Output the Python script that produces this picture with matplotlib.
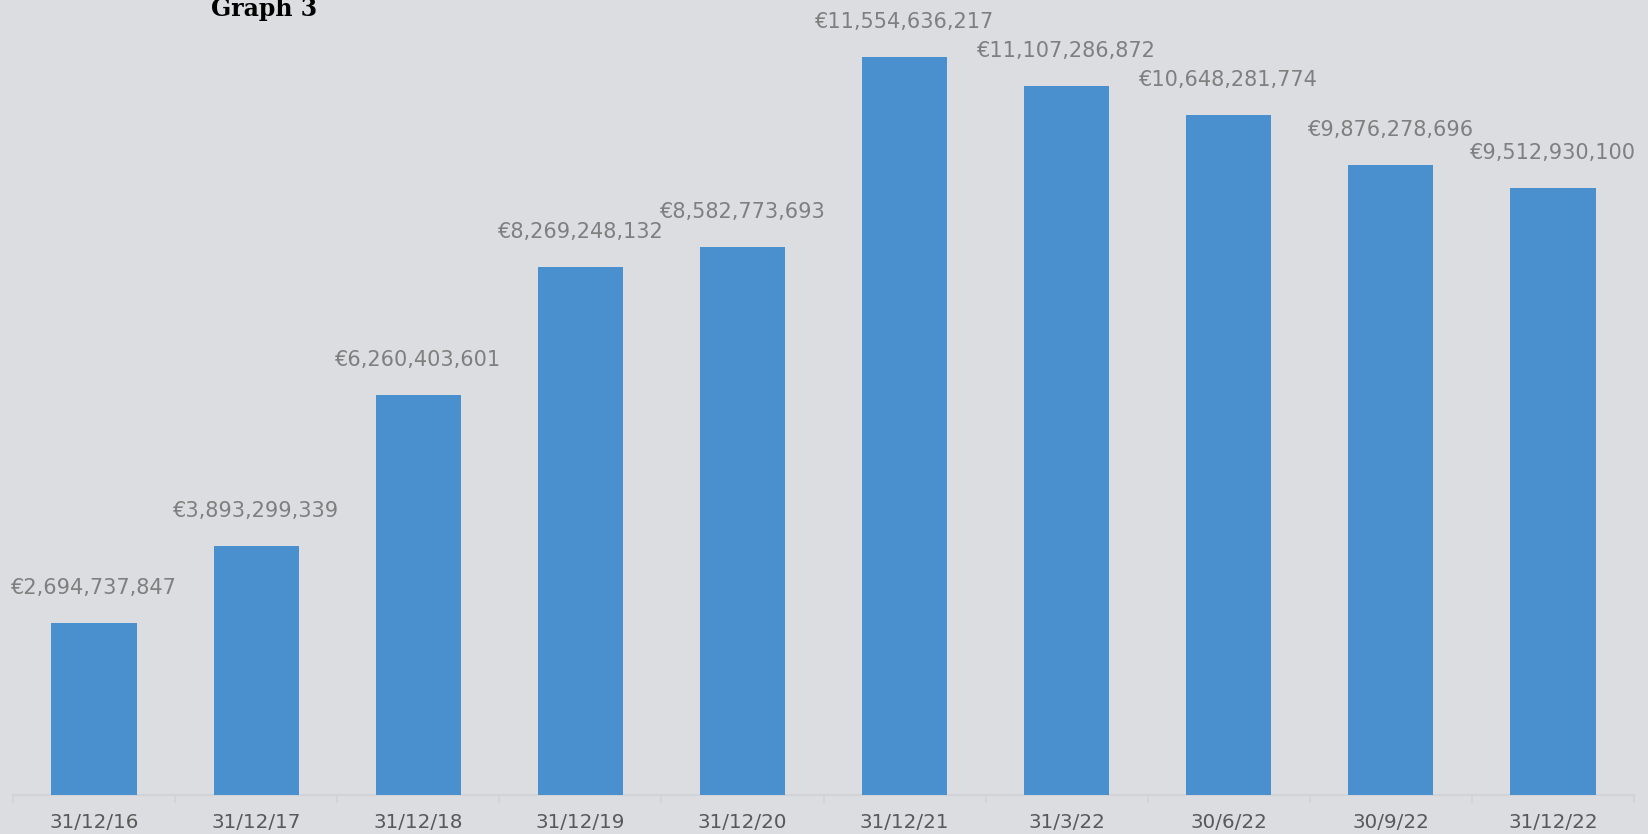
import matplotlib.pyplot as plt
import numpy as np

dates = ['31/12/16', '31/12/17', '31/12/18', '31/12/19', '31/12/20',
         '31/12/21', '31/3/22', '30/6/22', '30/9/22', '31/12/22']
amounts = [2694737847, 3893299339, 6260403601, 8269248132, 8582773693,
           11554636217, 11107286872, 10648281774, 9876278696, 9512930100]

bg = '#dcdde0'
bar_colour = '#4a90cf'
line_colour = '#d2d3d6'

fig = plt.figure(figsize=(16.48, 8.34), dpi=100)
fig.patch.set_facecolor(bg)
ax = fig.add_axes([13 / 1648, 39 / 834, 1621 / 1648, 766 / 834])
ax.set_facecolor(bg)

x = np.arange(len(dates))
bars = ax.bar(x, amounts, width=0.525, color=bar_colour, zorder=3)

# value labels above the bars
for rect, val in zip(bars, amounts):
    ax.annotate('€{:,}'.format(val),
                (rect.get_x() + rect.get_width() / 2, rect.get_height()),
                xytext=(0, 18), textcoords='offset points',
                ha='center', va='bottom', fontsize=15, color='#7f7f7f')

ax.set_xlim(-0.5, len(dates) - 0.5)
ax.set_ylim(0, 12e9)
ax.set_xticks(x)
ax.set_xticklabels(dates, fontsize=14.3, color='#595959')
ax.set_xticks(np.arange(len(dates) + 1) - 0.5, minor=True)
ax.tick_params(axis='x', which='major', length=0, pad=13)
ax.tick_params(axis='x', which='minor', length=6, width=1.2, color=line_colour)
ax.set_yticks([])

for side in ['top', 'right', 'left']:
    ax.spines[side].set_visible(False)
ax.spines['bottom'].set_color(line_colour)
ax.spines['bottom'].set_linewidth(1.5)

fig.text(211 / 1648, 1 - 16 / 834, 'Graph 3', fontsize=17, fontweight='bold',
         family='DejaVu Serif', color='black', va='baseline', ha='left')

fig.savefig('out.png', dpi=100, facecolor=bg)
